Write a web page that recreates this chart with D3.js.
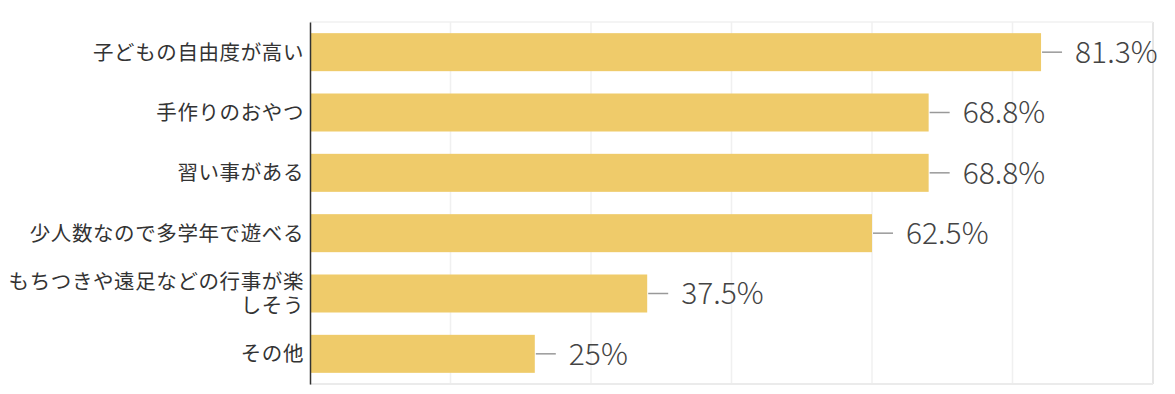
<!DOCTYPE html>
<html>
<head>
<meta charset="utf-8">
<script src="https://d3js.org/d3.v7.min.js"></script>
<style>
  body { margin: 0; background: #fff; }
</style>
</head>
<body>
<div id="chart"></div>
<script>
// categories (line breaks as in the original)
var categories = [
  "子どもの自由度が高い",
  "手作りのおやつ",
  "習い事がある",
  "少人数なので多学年で遊べる",
  "もちつきや遠足などの行事が楽\nしそう",
  "その他"
];
// percent of answers
var values = [81.3, 68.8, 68.8, 62.5, 37.5, 25];
var valueLabels = ["81.3%", "68.8%", "68.8%", "62.5%", "37.5%", "25%"];
// axis max (15 of 16 answers) and gridlines
var xMax = 93.75;
var gridTicks = d3.range(0, 7).map(function(i) { return xMax / 6 * i; });

var W = 1175, H = 394;
var margin = {top: 22, right: 22, bottom: 10, left: 310};
var width = W - margin.left - margin.right,
    height = H - margin.top - margin.bottom;

var svg = d3.select("#chart").append("svg")
    .attr("width", W).attr("height", H)
  .append("g")
    .attr("transform", "translate(" + margin.left + "," + margin.top + ")");

var x = d3.scaleLinear().domain([0, xMax]).range([0, width]);
var y = d3.scaleBand().domain(categories).range([0, height]).paddingInner(0.37).paddingOuter(0.185);

// grid
svg.append("g").selectAll("line")
  .data(gridTicks.slice(1))
  .join("line")
    .attr("x1", function(d) { return x(d); }).attr("x2", function(d) { return x(d); })
    .attr("y1", 0).attr("y2", height)
    .attr("stroke", function(d, i) { return i == 5 ? "#e6e6e6" : "#f0f0f0"; })
    .attr("stroke-width", function(d, i) { return i == 5 ? 2 : 1.5; });
svg.append("line").attr("x1", 0).attr("x2", width).attr("y1", 0).attr("y2", 0)
  .attr("stroke", "#f0f0f0").attr("stroke-width", 1.5);
svg.append("line").attr("x1", 0).attr("x2", width).attr("y1", height).attr("y2", height)
  .attr("stroke", "#ebebeb").attr("stroke-width", 2);

// bars
svg.selectAll("rect.bar")
  .data(values)
  .join("rect")
    .attr("class", "bar")
    .attr("x", 0)
    .attr("y", function(d, i) { return y(categories[i]); })
    .attr("width", function(d) { return x(d); })
    .attr("height", y.bandwidth())
    .attr("fill", "#efcb6a");

// leader lines + value labels
svg.selectAll("line.lead")
  .data(values)
  .join("line")
    .attr("class", "lead")
    .attr("x1", function(d) { return x(d) + 1; })
    .attr("x2", function(d) { return x(d) + 21; })
    .attr("y1", function(d, i) { return y(categories[i]) + y.bandwidth() / 2; })
    .attr("y2", function(d, i) { return y(categories[i]) + y.bandwidth() / 2; })
    .attr("stroke", "#999").attr("stroke-width", 1.5);

svg.selectAll("text.val")
  .data(values)
  .join("text")
    .attr("class", "val")
    .attr("x", function(d) { return x(d) + 34; })
    .attr("y", function(d, i) { return y(categories[i]) + y.bandwidth() / 2; })
    .attr("dy", "0.36em")
    .attr("font-family", "'Noto Sans CJK JP', sans-serif")
    .attr("font-weight", 300)
    .attr("font-size", 30)
    .attr("fill", "#444")
    .text(function(d, i) { return valueLabels[i]; });

// y axis
var yAxis = svg.append("g").call(d3.axisLeft(y).tickSize(0).tickPadding(6).tickFormat(""));
yAxis.select(".domain").attr("stroke", "#333").attr("stroke-width", 1.5);

var lab = svg.append("g").selectAll("text")
  .data(categories)
  .join("text")
    .attr("text-anchor", "end")
    .attr("font-family", "'Noto Sans CJK JP', sans-serif")
    .attr("font-size", 20.5)
    .attr("letter-spacing", 0.6)
    .attr("fill", "#333")
    .attr("y", function(d) {
      var n = d.split("\n").length;
      return y(d) + y.bandwidth() / 2 - (n - 1) * 12;
    });
lab.selectAll("tspan")
  .data(function(d) { return d.split("\n"); })
  .join("tspan")
    .attr("x", -6)
    .attr("dy", function(d, i) { return i == 0 ? "0.36em" : 24; })
    .text(function(d) { return d; });
</script>
</body>
</html>
